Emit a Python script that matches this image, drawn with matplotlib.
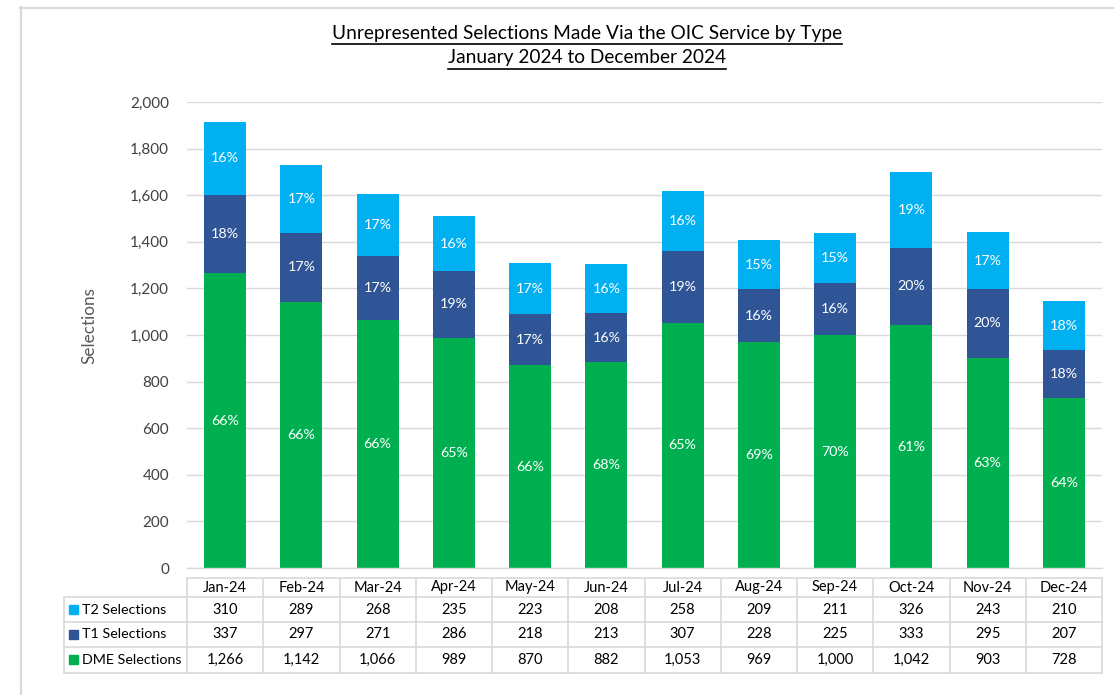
import matplotlib
matplotlib.use("Agg")
import matplotlib.pyplot as plt
import matplotlib.transforms as mtransforms
from matplotlib.lines import Line2D
from matplotlib.patches import Rectangle

months = ["Jan-24", "Feb-24", "Mar-24", "Apr-24", "May-24", "Jun-24",
          "Jul-24", "Aug-24", "Sep-24", "Oct-24", "Nov-24", "Dec-24"]
dme = [1266, 1142, 1066, 989, 870, 882, 1053, 969, 1000, 1042, 903, 728]
t1 = [337, 297, 271, 286, 218, 213, 307, 228, 225, 333, 295, 207]
t2 = [310, 289, 268, 235, 223, 208, 258, 209, 211, 326, 243, 210]
series_names = ["T2 Selections", "T1 Selections", "DME Selections"]
yticks = [0, 200, 400, 600, 800, 1000, 1200, 1400, 1600, 1800, 2000]

c_dme = "#00B050"
c_t1 = "#2F5597"
c_t2 = "#00B0F0"
grid_c = "#D9D9D9"

plt.rcParams['font.family'] = ['Lato', 'DejaVu Sans']

W, H = 1114, 695
fig = plt.figure(figsize=(W / 100, H / 100), dpi=100)

def fx(px):
    return px / W

def fy(py):
    return 1 - py / H

# outer frame
fig.add_artist(Line2D([fx(20), fx(1114)], [fy(7.5), fy(7.5)], color="#D9D9D9", lw=1.5))
fig.add_artist(Line2D([fx(20.5), fx(20.5)], [fy(7), fy(695)], color="#D9D9D9", lw=1.5))

ax = fig.add_axes([fx(187), fy(568), fx(1102) - fx(187), fy(102) - fy(568)])
x = list(range(len(months)))
bw = 0.55
totals = [a + b + c for a, b, c in zip(dme, t1, t2)]
bottoms1 = dme
bottoms2 = [a + b for a, b in zip(dme, t1)]
ax.bar(x, dme, width=bw, color=c_dme, zorder=2)
ax.bar(x, t1, width=bw, bottom=bottoms1, color=c_t1, zorder=2)
ax.bar(x, t2, width=bw, bottom=bottoms2, color=c_t2, zorder=2)

for i in x:
    for val, bot in ((dme[i], 0), (t1[i], bottoms1[i]), (t2[i], bottoms2[i])):
        ax.text(i, bot + val / 2, f"{100 * val / totals[i]:.0f}%", ha="center", va="center",
                color="white", fontsize=10.3, zorder=3)

ax.set_xlim(-0.5, len(months) - 0.5)
ax.set_ylim(0, 2000)
ax.set_yticks(yticks)
ax.set_yticklabels([f"{v:,}" for v in yticks], fontsize=11, color="#404040")
ax.tick_params(axis="y", length=0, pad=13)
ax.set_xticks([])
ax.grid(axis="y", color=grid_c, lw=1, zorder=0)
for s in ["top", "right", "left"]:
    ax.spines[s].set_visible(False)
ax.spines["bottom"].set_color(grid_c)
ax.spines["bottom"].set_linewidth(1)
ax.set_axisbelow(True)

fig.text(fx(89), fy(326), "Selections", rotation=90, ha="center", va="center",
         fontsize=12.3, color="#595959")

# title with underline
title_lines = ["Unrepresented Selections Made Via the OIC Service by Type",
               "January 2024 to December 2024"]
title_y = [33, 58]
tobjs = []
for t, yy in zip(title_lines, title_y):
    tobjs.append(fig.text(fx(587), fy(yy), t, ha="center", va="center", fontsize=13.8, color="#000000"))
fig.canvas.draw()
r = fig.canvas.get_renderer()
for to, yy in zip(tobjs, title_y):
    bb = to.get_window_extent(renderer=r)
    fig.add_artist(Line2D([bb.x0 / W, bb.x1 / W], [fy(yy + 10.5), fy(yy + 10.5)], color="black", lw=1.2))

# data table
tr = mtransforms.blended_transform_factory(ax.transData, fig.transFigure)
row_edges = [578, 597, 622, 647, 672.5]
tab_left = 64
lc = "#D9D9D9"
fig.add_artist(Line2D([fx(187), fx(1102)], [fy(row_edges[0])] * 2, color=lc, lw=1.2))
for ye in row_edges[1:]:
    fig.add_artist(Line2D([fx(tab_left), fx(1102)], [fy(ye)] * 2, color=lc, lw=1.2))
fig.add_artist(Line2D([fx(tab_left)] * 2, [fy(row_edges[1]), fy(row_edges[-1])], color=lc, lw=1.2))
for i in range(len(months) + 1):
    fig.add_artist(Line2D([i - 0.5, i - 0.5], [fy(row_edges[0]), fy(row_edges[-1])],
                          color=lc, lw=1.2, transform=tr))
for i, m in enumerate(months):
    fig.text(i, fy((row_edges[0] + row_edges[1]) / 2), m, transform=tr, ha="center", va="center",
             fontsize=10.5, color="#000000")
rows = [t2, t1, dme]
cols = [c_t2, c_t1, c_dme]
for k, (name, vals, col) in enumerate(zip(series_names, rows, cols)):
    yc = (row_edges[k + 1] + row_edges[k + 2]) / 2
    fig.add_artist(Rectangle((fx(69), fy(yc + 4)), fx(9), 9 / H, color=col, transform=fig.transFigure))
    fig.text(fx(82), fy(yc), name, ha="left", va="center", fontsize=10.3, color="#000000")
    for i, v in enumerate(vals):
        fig.text(i, fy(yc), f"{v:,}", transform=tr, ha="center", va="center",
                 fontsize=10.5, color="#000000")

fig.savefig("out.png", dpi=100, facecolor="white")
